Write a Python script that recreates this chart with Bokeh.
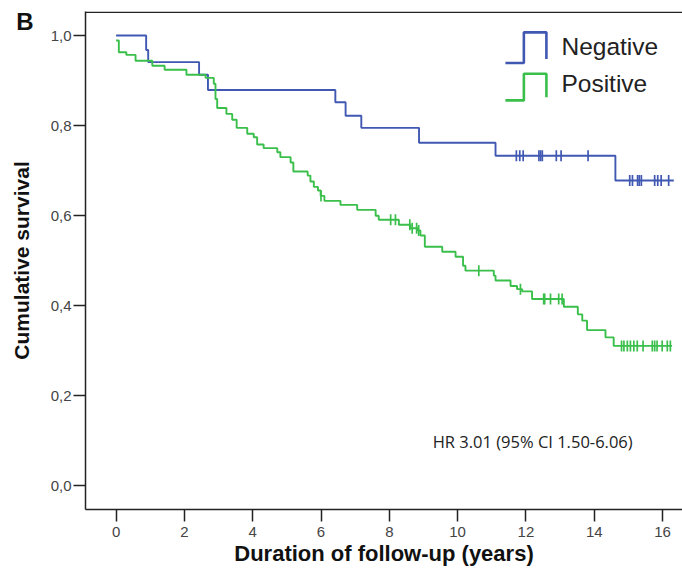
import numpy as np
from bokeh.plotting import figure
from bokeh.models import Range1d, FixedTicker, LinearAxis, Label, Span, CustomJSTickFormatter
from bokeh.embed import file_html
from bokeh.resources import INLINE

# ---------------- data ----------------
neg_times = [0.0, 0.88, 0.94, 2.43, 2.69, 6.42, 6.72, 7.18, 8.87, 11.11, 14.62, 16.33]
neg_surv = [1.0, 0.968, 0.941, 0.913, 0.879, 0.852, 0.822, 0.795, 0.762, 0.733, 0.678, 0.678]
neg_censor = [11.72, 11.82, 11.92, 12.38, 12.43, 12.48, 12.89, 13.03, 13.82,
              15.04, 15.12, 15.27, 15.32, 15.38, 15.77, 15.86, 15.96, 16.18]

pos_times = [0.0, 0.08, 0.30, 0.57, 1.06, 1.42, 2.06, 2.62, 2.86, 2.91, 2.96,
             3.23, 3.40, 3.53, 3.84, 4.03, 4.13, 4.32, 4.72, 4.81, 5.11, 5.19, 5.61,
             5.69, 5.79, 5.91, 5.99, 6.10, 6.57, 7.06, 7.60, 7.69, 8.28, 8.62, 8.83,
             8.91, 9.04, 9.55, 9.94, 10.16, 10.23, 11.06, 11.11, 11.55, 11.74, 11.89,
             12.18, 13.11, 13.52, 13.65, 13.79, 14.33, 14.57, 16.28]
pos_surv = [0.989, 0.963, 0.957, 0.944, 0.933, 0.924, 0.913, 0.906, 0.893, 0.859, 0.839,
            0.826, 0.813, 0.795, 0.782, 0.774, 0.758, 0.750, 0.741, 0.730, 0.718, 0.698, 0.689,
            0.676, 0.664, 0.656, 0.644, 0.633, 0.624, 0.613, 0.600, 0.591, 0.580, 0.572, 0.567,
            0.556, 0.531, 0.520, 0.509, 0.489, 0.478, 0.467, 0.456, 0.444, 0.437, 0.432,
            0.415, 0.398, 0.381, 0.367, 0.346, 0.330, 0.311, 0.311]
pos_censor = [6.00, 8.04, 8.18, 8.60, 8.67, 8.80, 8.86, 10.62, 11.84, 12.52, 12.55, 12.72,
              12.96, 13.06, 14.80, 14.87, 14.97, 15.06, 15.16, 15.26, 15.43, 15.70, 15.77,
              15.84, 15.99, 16.14, 16.23]

group_labels = ["Negative", "Positive"]
x_ticks = [0, 2, 4, 6, 8, 10, 12, 14, 16]
y_ticks = [0.0, 0.2, 0.4, 0.6, 0.8, 1.0]
hr_text = "HR 3.01 (95% CI 1.50-6.06)"
panel_letter = "B"

# ---------------- style ----------------
BLUE = "#4058B2"
GREEN = "#3ABF4B"
AXC = "#222222"
FONT = "Liberation Sans"
X0, X1 = -0.896, 16.585
Y0, Y1 = -0.0522, 1.0533
LETTER_Y = 1.031


def censor_y(times, surv, cens):
    t = np.asarray(times)
    s = np.asarray(surv)
    idx = np.searchsorted(t, np.asarray(cens), side="right") - 1
    return s[idx]


p = figure(width=682, height=576, output_backend="svg", toolbar_location=None,
           x_range=Range1d(X0, X1), y_range=Range1d(Y0, Y1),
           min_border_left=85, min_border_right=0, min_border_top=11, min_border_bottom=67)
p.outline_line_color = None
p.xgrid.visible = False
p.ygrid.visible = False
p.background_fill_color = "white"
p.border_fill_color = "white"

for ax in (p.xaxis[0], p.yaxis[0]):
    ax.axis_line_color = AXC
    ax.axis_line_width = 1.5
    ax.major_tick_line_color = AXC
    ax.major_tick_line_width = 1.5
    ax.major_tick_in = 0
    ax.major_tick_out = 12
    ax.minor_tick_line_color = None
    ax.major_label_text_font = FONT
    ax.major_label_text_font_size = "15px"
    ax.major_label_text_color = "#444444"
    ax.axis_label_text_font = FONT
    ax.axis_label_text_font_style = "bold"
    ax.axis_label_text_color = "#111111"

p.xaxis.ticker = FixedTicker(ticks=x_ticks)
p.xaxis.major_label_standoff = 5
p.xaxis.axis_label = "Duration of follow-up (years)"
p.xaxis.axis_label_text_font_size = "22px"
p.xaxis.axis_label_standoff = 1

p.yaxis.ticker = FixedTicker(ticks=y_ticks)
p.yaxis.formatter = CustomJSTickFormatter(code="return tick.toFixed(1).replace('.', ',');")
p.yaxis.major_label_standoff = 2

# outer left axis: carries the panel letter as a tick label and the axis title
outer = LinearAxis(ticker=FixedTicker(ticks=[LETTER_Y]),
                   formatter=CustomJSTickFormatter(code="return '%s';" % panel_letter),
                   axis_line_color=None, major_tick_line_color=None, minor_tick_line_color=None,
                   major_tick_in=0, major_tick_out=0, major_label_standoff=14,
                   major_label_text_font=FONT, major_label_text_font_size="24px",
                   major_label_text_font_style="bold", major_label_text_color="#111111",
                   axis_label="Cumulative survival", axis_label_text_font=FONT,
                   axis_label_text_font_size="21px", axis_label_text_font_style="bold",
                   axis_label_text_color="#111111", axis_label_standoff=-20)
p.add_layout(outer, "left")

# top border line of the frame
p.add_layout(Span(location=Y1 - 0.0015, dimension="width", line_color=AXC, line_width=1.5))

# curves
for times, surv, cens, col in ((neg_times, neg_surv, neg_censor, BLUE),
                               (pos_times, pos_surv, pos_censor, GREEN)):
    p.step(times, surv, mode="after", line_color=col, line_width=1.9)
    p.scatter(cens, censor_y(times, surv, cens), marker="dash", angle=np.pi / 2,
              size=11, line_color=col, line_width=1.7)

# legend (custom step icons)
LEG_X = [11.40, 11.94, 12.60]
LEG_TEXT_X = 13.04
LEG_ROWS = [(0.939, 1.007, 0.948, 0.976), (0.856, 0.915, 0.863, 0.893)]
for (yb, yt, ye, yc), col, lab in zip(LEG_ROWS, (BLUE, GREEN), group_labels):
    p.line([LEG_X[0], LEG_X[1], LEG_X[1], LEG_X[2], LEG_X[2]], [yb, yb, yt, yt, ye],
           line_color=col, line_width=2.6)
    p.add_layout(Label(x=LEG_TEXT_X, y=yc, text=lab, text_font=FONT, text_font_size="24.5px",
                       text_color="#222222", text_baseline="middle", text_align="left"))

p.add_layout(Label(x=9.27, y=0.098, text=hr_text, text_font="Open Sans",
                   text_font_size="16.5px", text_color="#222222",
                   text_baseline="middle", text_align="left"))

open("out.html", "w").write(file_html(p, INLINE))
